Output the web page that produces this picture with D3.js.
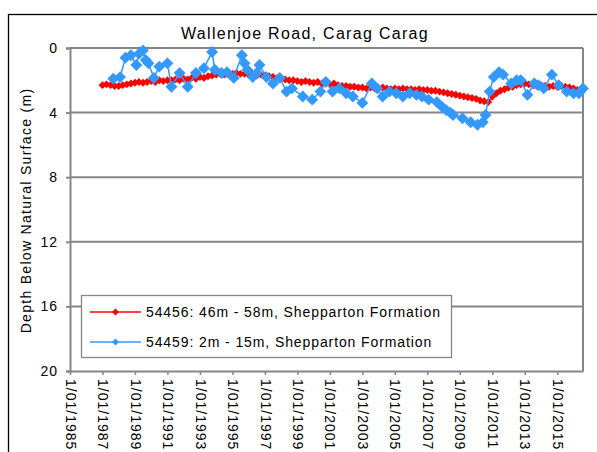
<!DOCTYPE html>
<html>
<head>
<meta charset="utf-8">
<script src="https://cdn.jsdelivr.net/npm/d3@7"></script>
<style>
  body { margin: 0; background: #fff; }
  svg { display: block; font-family: "Liberation Sans", Arial, sans-serif; }
</style>
</head>
<body>
<svg id="chart" width="597" height="452"></svg>
<script>
// bore hydrograph, Wallenjoe Road

const title = "Wallenjoe Road, Carag Carag";
const yLabel = "Depth Below Natural Surface (m)";
const seriesNames = [
  "54456: 46m - 58m, Shepparton Formation",
  "54459: 2m - 15m, Shepparton Formation"
];
const yTicks = [0, 4, 8, 12, 16, 20];
const xTickYears = [1985, 1987, 1989, 1991, 1993, 1995, 1997, 1999, 2001, 2003, 2005, 2007, 2009, 2011, 2013, 2015];

// 54456 (red) readings
const redDates = [
  "1987-01","1987-04","1987-07","1987-10","1988-01","1988-04","1988-07","1988-10",
  "1989-01","1989-04","1989-07","1989-10","1990-01","1990-04","1990-07","1990-10",
  "1991-01","1991-04","1991-07","1991-10","1992-01","1992-04","1992-07","1992-10",
  "1993-01","1993-04","1993-07","1993-10","1994-01","1994-04","1994-07","1994-10",
  "1995-01","1995-04","1995-07","1995-10","1996-01","1996-04","1996-07","1996-10",
  "1997-01","1997-04","1997-07","1997-10","1998-01","1998-04","1998-07","1998-10",
  "1999-01","1999-04","1999-07","1999-10","2000-01","2000-04","2000-07","2000-10",
  "2001-01","2001-04","2001-07","2001-10","2002-01","2002-04","2002-07","2002-10",
  "2003-01","2003-04","2003-07","2003-10","2004-01","2004-04","2004-07","2004-10",
  "2005-01","2005-04","2005-07","2005-10","2006-01","2006-04","2006-07","2006-10",
  "2007-01","2007-04","2007-07","2007-10","2008-01","2008-04","2008-07","2008-10",
  "2009-01","2009-04","2009-07","2009-10","2010-01","2010-04","2010-07","2010-10",
  "2011-01","2011-04","2011-07","2011-10","2012-01","2012-04","2012-07","2012-10",
  "2013-01","2013-04","2013-07","2013-10","2014-01","2014-04","2014-07","2014-10",
  "2015-01","2015-04","2015-07","2015-10","2016-01","2016-04","2016-07"
];
const redDepth = [
  2.3, 2.25, 2.3, 2.35, 2.35, 2.3, 2.25, 2.2,
  2.15, 2.1, 2.15, 2.1, 2.05, 2.1, 2.0, 2.05,
  2.0, 2.0, 1.95, 2.0, 1.9, 1.95, 1.85, 1.9,
  1.8, 1.85, 1.75, 1.7, 1.65, 1.6, 1.65, 1.6,
  1.6, 1.55, 1.6, 1.6, 1.65, 1.6, 1.7, 1.65,
  1.7, 1.75, 1.8, 1.85, 1.9, 1.95, 2.0, 2.0,
  2.05, 2.1, 2.05, 2.1, 2.15, 2.1, 2.2, 2.2,
  2.25, 2.2, 2.3, 2.35, 2.35, 2.4, 2.4, 2.45,
  2.45, 2.5, 2.45, 2.5, 2.5, 2.45, 2.5, 2.55,
  2.5, 2.55, 2.5, 2.55, 2.55, 2.6, 2.55, 2.6,
  2.6, 2.65, 2.65, 2.7, 2.75, 2.8, 2.85, 2.9,
  2.95, 3.0, 3.05, 3.1, 3.15, 3.25, 3.3, 3.35,
  3.0, 2.8, 2.65, 2.55, 2.45, 2.4, 2.3, 2.25,
  2.2, 2.25, 2.3, 2.35, 2.3, 2.35, 2.4, 2.35,
  2.4, 2.35, 2.4, 2.45, 2.5, 2.6, 2.7
];

// 54459 (blue) readings
const blueDates = [
  "1987-09","1988-02","1988-06","1988-10","1989-02","1989-04","1989-07","1989-09",
  "1989-11","1990-03","1990-07","1991-01","1991-04","1991-10","1992-04","1992-10",
  "1993-04","1993-10","1993-12","1994-05","1994-09","1995-02","1995-08","1995-10",
  "1995-12","1996-04","1996-07","1996-09","1997-02","1997-07","1997-12","1998-05",
  "1998-09","1999-05","1999-12","2000-06","2000-10","2001-03","2001-08","2002-01",
  "2002-06","2003-01","2003-08","2003-12","2004-04","2004-09","2005-02","2005-07",
  "2005-12","2006-05","2006-09","2007-02","2007-08","2007-12","2008-03","2008-06",
  "2008-08","2009-03","2009-09","2010-02","2010-06","2010-08","2010-11","2011-02",
  "2011-06","2011-09","2012-03","2012-07","2012-10","2013-03","2013-08","2013-11",
  "2014-03","2014-09","2015-02","2015-08","2016-01","2016-05","2016-08"
];
const blueDepth = [
  1.9, 1.8, 0.6, 0.45, 1.05, 0.35, 0.15, 0.75,
  0.95, 1.85, 1.15, 0.95, 2.4, 1.55, 2.4, 1.55,
  1.25, 0.25, 1.35, 1.55, 1.5, 1.85, 0.45, 0.95,
  1.35, 1.8, 1.55, 1.05, 1.8, 2.2, 1.85, 2.7,
  2.5, 3.0, 3.2, 2.7, 2.1, 2.7, 2.5, 2.8,
  3.0, 3.4, 2.2, 2.5, 3.0, 2.7, 2.8, 3.0,
  2.8, 2.9, 3.0, 3.2, 3.35, 3.65, 3.85, 4.0,
  4.15, 4.35, 4.6, 4.75, 4.6, 4.15, 2.7, 1.8,
  1.5, 1.65, 2.2, 2.0, 2.0, 2.9, 2.2, 2.3,
  2.5, 1.65, 2.3, 2.7, 2.8, 2.8, 2.5
];

const parseDate = d3.timeParse("%Y-%m");
const redData = redDates.map((d, i) => [parseDate(d), redDepth[i]]);
const blueData = blueDates.map((d, i) => [parseDate(d), blueDepth[i]]);

const svg = d3.select("#chart");
const plot = { left: 70, top: 48, right: 583, bottom: 371 };
const gray = "#868686";

// outer chart border
svg.append("rect")
  .attr("x", 8.5).attr("y", 14.5)
  .attr("width", 620).attr("height", 480)
  .attr("fill", "none").attr("stroke", "#000").attr("stroke-width", 1.3);

const xScale = d3.scaleTime()
  .domain([new Date(1985, 0, 1), new Date(2016, 7, 1)])
  .range([plot.left, plot.right]);

const yScale = d3.scaleLinear()
  .domain([0, 20])
  .range([plot.top, plot.bottom]);

// gridlines
svg.append("g")
  .selectAll("line")
  .data(yTicks.slice(0, -1))
  .join("line")
  .attr("x1", plot.left).attr("x2", plot.right)
  .attr("y1", d => yScale(d)).attr("y2", d => yScale(d))
  .attr("stroke", gray).attr("stroke-width", 2);

// right border
svg.append("line")
  .attr("x1", plot.right).attr("x2", plot.right)
  .attr("y1", plot.top).attr("y2", plot.bottom)
  .attr("stroke", gray).attr("stroke-width", 2);

// Y axis
const yAxis = svg.append("g")
  .attr("transform", `translate(${plot.left}, 0)`)
  .call(d3.axisLeft(yScale).tickValues(yTicks).tickSize(4).tickPadding(8));
yAxis.select(".domain").attr("stroke", gray).attr("stroke-width", 2);
yAxis.selectAll(".tick line").attr("stroke", gray).attr("stroke-width", 2);
yAxis.selectAll("text")
  .style("font-size", "14px")
  .style("letter-spacing", "1px")
  .attr("fill", "#000");

// X axis
const xAxis = svg.append("g")
  .attr("transform", `translate(0, ${plot.bottom})`)
  .call(d3.axisBottom(xScale)
    .tickValues(xTickYears.map(y => new Date(y, 0, 1)))
    .tickFormat(d3.timeFormat("1/01/%Y"))
    .tickSize(4)
    .tickSizeOuter(0));
xAxis.select(".domain").attr("stroke", gray).attr("stroke-width", 2);
xAxis.selectAll(".tick line").attr("stroke", gray).attr("stroke-width", 1.5);
xAxis.selectAll("text")
  .style("font-size", "14px")
  .style("letter-spacing", "1px")
  .attr("fill", "#000")
  .attr("text-anchor", "start")
  .attr("dy", "0.35em")
  .attr("transform", "translate(0, 8) rotate(90)")
  .attr("x", 0).attr("y", 0);

// title
svg.append("text")
  .attr("x", 305).attr("y", 39)
  .attr("text-anchor", "middle")
  .style("font-size", "16px")
  .style("letter-spacing", "1.3px")
  .text(title);

// y axis label
svg.append("text")
  .attr("transform", `translate(31, ${(plot.top + plot.bottom) / 2 + 1}) rotate(-90)`)
  .attr("text-anchor", "middle")
  .style("font-size", "14px")
  .style("letter-spacing", "1.3px")
  .text(yLabel);

const line = d3.line()
  .x(d => xScale(d[0]))
  .y(d => yScale(d[1]));

const diamond = d3.symbol().type(d3.symbolDiamond2);

function drawSeries(data, color, markerSize) {
  const g = svg.append("g");
  g.append("path")
    .datum(data)
    .attr("d", line)
    .attr("fill", "none")
    .attr("stroke", color)
    .attr("stroke-width", 1.5);
  g.selectAll("path.marker")
    .data(data)
    .join("path")
    .attr("class", "marker")
    .attr("transform", d => `translate(${xScale(d[0])}, ${yScale(d[1])})`)
    .attr("d", diamond.size(markerSize))
    .attr("fill", color);
}

drawSeries(redData, "#FF0000", 40);
drawSeries(blueData, "#3399FF", 90);

// legend
const legend = svg.append("g");
legend.append("rect")
  .attr("x", 81.5).attr("y", 295.5)
  .attr("width", 370).attr("height", 62)
  .attr("fill", "#fff").attr("stroke", gray).attr("stroke-width", 1.3);

const legendColors = ["#FF0000", "#3399FF"];
seriesNames.forEach((name, i) => {
  const y = 312 + i * 30;
  legend.append("line")
    .attr("x1", 90).attr("x2", 141)
    .attr("y1", y).attr("y2", y)
    .attr("stroke", legendColors[i]).attr("stroke-width", 1.5);
  legend.append("path")
    .attr("transform", `translate(115.5, ${y})`)
    .attr("d", diamond.size(30))
    .attr("fill", legendColors[i]);
  legend.append("text")
    .attr("x", 146).attr("y", y)
    .attr("dy", "0.35em")
    .style("font-size", "14px")
    .style("letter-spacing", "0.9px")
    .text(name);
});
</script>
</body>
</html>
